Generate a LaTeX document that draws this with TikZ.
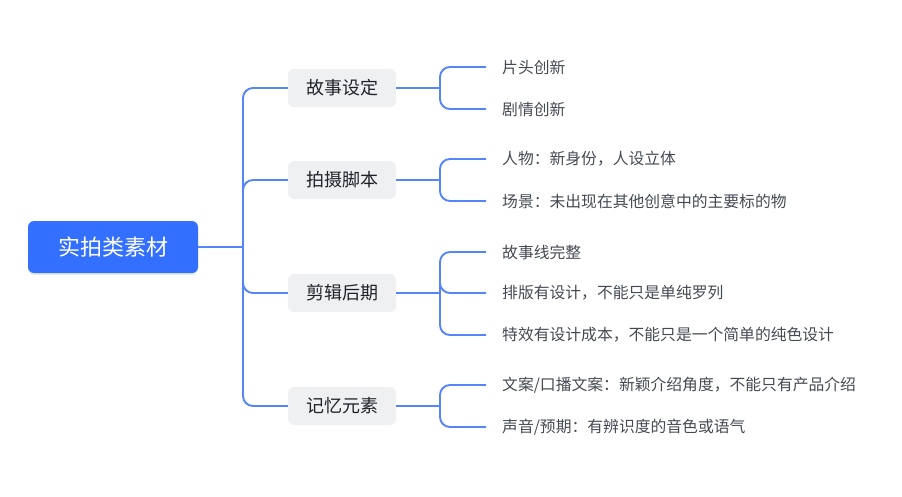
\documentclass[tikz,border=0pt]{standalone}
\usepackage{fontspec}
\setmainfont{Noto Sans CJK SC}
\usepackage{tikz}
\usepackage{xcolor}
\usetikzlibrary{shadows}
\definecolor{mainblue}{HTML}{3370FF}
\definecolor{linkblue}{HTML}{5585F8}
\definecolor{topicgray}{HTML}{EFF0F1}
\definecolor{topictext}{HTML}{1F2329}
\definecolor{leaftext}{HTML}{454A52}

\begin{document}
\begin{tikzpicture}[x=1pt, y=-1pt,
    mainbox/.style = {shape=rectangle, rounded corners=6pt, fill=mainblue,
      text=white, minimum width=170pt, minimum height=52pt,
      font=\fontsize{22}{26}\selectfont,
      drop shadow={shadow xshift=0pt, shadow yshift=-2pt, fill=mainblue, opacity=0.15}},
    topicbox/.style = {shape=rectangle, rounded corners=6pt, fill=topicgray,
      text=topictext, minimum width=108pt, minimum height=38pt,
      font=\fontsize{18}{21}\selectfont},
    leafbox/.style = {anchor=west, inner xsep=16pt, text=leaftext,
      font=\fontsize{15.8}{18}\selectfont},
    link/.style = {draw=linkblue, line width=1.9pt, rounded corners=10pt}]
    \useasboundingbox (0,0) rectangle (902,496);
    % root and topics
    \node[mainbox] (main) at (113,247) {实拍类素材};
    \node[topicbox] (story) at (342,88) {故事设定};
    \node[topicbox] (script) at (342,180) {拍摄脚本};
    \node[topicbox] (edit) at (342,293) {剪辑后期};
    \node[topicbox] (memory) at (342,406) {记忆元素};
    % leaves
    \node[leafbox] (s1) at (486,67) {片头创新};
    \node[leafbox] (s2) at (486,109) {剧情创新};
    \node[leafbox] (p1) at (486,159) {人物：新身份，人设立体};
    \node[leafbox] (p2) at (486,201) {场景：未出现在其他创意中的主要标的物};
    \node[leafbox] (e1) at (486,252) {故事线完整};
    \node[leafbox] (e2) at (486,293) {排版有设计，不能只是单纯罗列};
    \node[leafbox] (e3) at (486,335) {特效有设计成本，不能只是一个简单的纯色设计};
    \node[leafbox] (m1) at (486,385) {文案/口播文案：新颖介绍角度，不能只有产品介绍};
    \node[leafbox] (m2) at (486,427) {声音/预期：有辨识度的音色或语气};
    % junctions
    \coordinate (jmain) at (243,247);
    \coordinate (jstory) at (440,88);
    \coordinate (jscript) at (440,180);
    \coordinate (jedit) at (440,293);
    \coordinate (jmemory) at (440,406);
    % connectors
    \draw[link] (main.east) -- (jmain);
    \foreach \t in {story, script, edit, memory}
      \draw[link] (jmain) |- (\t.west);
    \draw[link] (story.east) -- (jstory);
    \foreach \l in {s1, s2}
      \draw[link] (jstory) |- (\l.west);
    \draw[link] (script.east) -- (jscript);
    \foreach \l in {p1, p2}
      \draw[link] (jscript) |- (\l.west);
    \draw[link] (edit.east) -- (jedit);
    \foreach \l in {e1, e2, e3}
      \draw[link] (jedit) |- (\l.west);
    \draw[link] (memory.east) -- (jmemory);
    \foreach \l in {m1, m2}
      \draw[link] (jmemory) |- (\l.west);
\end{tikzpicture}
\end{document}
